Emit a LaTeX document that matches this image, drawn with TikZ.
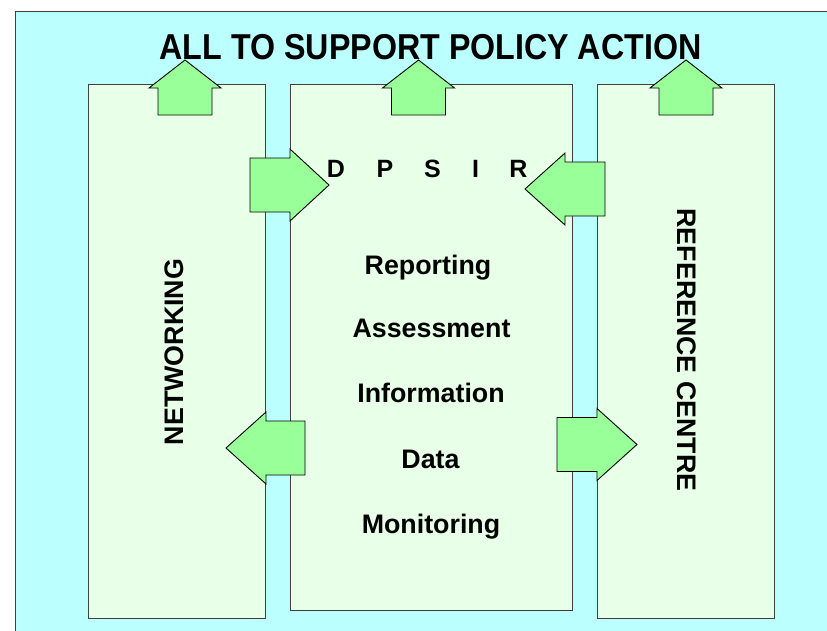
\documentclass[tikz,border=0pt]{standalone}
\usepackage{fontspec}
\setmainfont{Liberation Sans}
\definecolor{bgcyan}{HTML}{BBFFFF}
\definecolor{boxgreen}{HTML}{E8FFE8}
\definecolor{arrowgreen}{HTML}{99FF99}
\definecolor{edgegray}{HTML}{404040}
\tikzset{
  panel/.style={draw=edgegray, line width=1pt, fill=boxgreen, inner sep=0pt},
  blockarrow/.style={draw=black, line width=0.9pt, fill=arrowgreen, line join=miter},
  lbl/.style={inner sep=0pt, anchor=base, font=\bfseries\fontsize{26.8}{30}\selectfont},
  letter/.style={inner sep=0pt, anchor=base, font=\bfseries\fontsize{25}{30}\selectfont},
}
\begin{document}
\begin{tikzpicture}[x=1pt, y=-1pt]
\useasboundingbox (0,0) rectangle (827,630);
\clip (0,0) rectangle (827,630);
% background panel
\draw[draw=edgegray, line width=1pt, fill=bgcyan] (15,11) rectangle (840,650);
% three boxes
\node[panel, minimum width=177pt, minimum height=534pt] (net) at (176.5,351) {};
\node[panel, minimum width=282pt, minimum height=526pt] (mid) at (431,347) {};
\node[panel, minimum width=177pt, minimum height=534pt] (ref) at (685.5,351) {};
% up arrows
\draw[blockarrow] (185,60) -- (221,88) -- (212,88) -- (212,115) -- (158,115) -- (158,88) -- (149,88) -- cycle;
\draw[blockarrow] (418.5,60) -- (454.5,88) -- (445.5,88) -- (445.5,115) -- (391.5,115) -- (391.5,88) -- (382.5,88) -- cycle;
\draw[blockarrow] (686,60) -- (722,88) -- (713,88) -- (713,115) -- (659,115) -- (659,88) -- (650,88) -- cycle;
% side arrows
\draw[blockarrow] (329,185) -- (290,221) -- (290,212) -- (250,212) -- (250,158) -- (290,158) -- (290,149) -- cycle;
\draw[blockarrow] (525,189) -- (565,153) -- (565,162) -- (605,162) -- (605,216) -- (565,216) -- (565,225) -- cycle;
\draw[blockarrow] (226,448) -- (266,412) -- (266,421) -- (305,421) -- (305,475) -- (266,475) -- (266,484) -- cycle;
\draw[blockarrow] (637,444.5) -- (597,408.5) -- (597,417.5) -- (557,417.5) -- (557,471.5) -- (597,471.5) -- (597,480.5) -- cycle;
% title
\node[inner sep=0pt, anchor=base, font=\bfseries\fontsize{36}{40}\selectfont] (title) at (430.5,59) {\scalebox{0.895}[1]{ALL TO SUPPORT POLICY ACTION}};
% DPSIR
\node[letter] (d) at (336,177) {D};
\node[letter] (p) at (385,177) {P};
\node[letter] (s) at (432.5,177) {S};
\node[letter] (i) at (475.5,177) {I};
\node[letter] (r) at (518.5,177) {R};
% middle stack
\node[lbl] (rep) at (428,274) {Reporting};
\node[lbl] (ass) at (431.5,337.5) {Assessment};
\node[lbl] (inf) at (431,402) {Information};
\node[lbl] (dat) at (430.5,468) {Data};
\node[lbl] (mon) at (431,533) {Monitoring};
% vertical labels
\node[lbl, rotate=90] (netlbl) at (183,352) {NETWORKING};
\node[lbl, rotate=-90] (reflbl) at (677,350) {REFERENCE CENTRE};
\end{tikzpicture}
\end{document}
